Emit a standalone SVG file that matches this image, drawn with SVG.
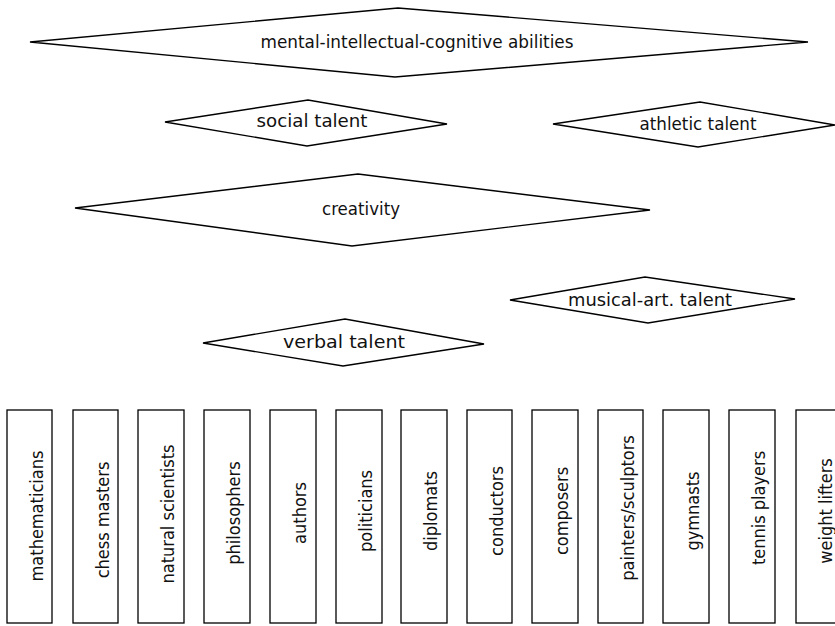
<svg xmlns="http://www.w3.org/2000/svg" width="835" height="626" viewBox="0 0 835 626">
<style>
.d{fill:#fff;stroke:#000;stroke-width:1.4;stroke-linejoin:miter}
.b{fill:#fff;stroke:#000;stroke-width:1.3}
.t{font-family:"DejaVu Sans","Liberation Sans",sans-serif;font-size:17.5px;fill:#111;text-anchor:middle}
.v{font-family:"DejaVu Sans","Liberation Sans",sans-serif;font-size:18px;fill:#111;text-anchor:middle}
</style>
<rect width="835" height="626" fill="#fff"/>
<g id="connectors"></g>
<g id="n-mental"><polygon class="d" points="30,42 398,8 808,42 395,77"/><text class="t" x="417" y="48" textLength="313" lengthAdjust="spacingAndGlyphs">mental-intellectual-cognitive abilities</text></g>
<g id="n-social"><polygon class="d" points="165,122 308,100 447,124 307,146"/><text class="t" x="312" y="127" textLength="111" lengthAdjust="spacingAndGlyphs">social talent</text></g>
<g id="n-athletic"><polygon class="d" points="553,124 700,102 835,125 698,147"/><text class="t" x="698" y="130" textLength="117" lengthAdjust="spacingAndGlyphs">athletic talent</text></g>
<g id="n-creativity"><polygon class="d" points="75,208 358,174 650,210 352,246"/><text class="t" x="361" y="215" textLength="78" lengthAdjust="spacingAndGlyphs">creativity</text></g>
<g id="n-musical"><polygon class="d" points="510,300 645,277 795,299 648,323"/><text class="t" x="650" y="306" textLength="164" lengthAdjust="spacingAndGlyphs">musical-art. talent</text></g>
<g id="n-verbal"><polygon class="d" points="203,343 345,319 484,344 343,366"/><text class="t" x="344" y="348" textLength="122" lengthAdjust="spacingAndGlyphs">verbal talent</text></g>
<g id="n-mathematicians"><rect class="b" x="7" y="410" width="45" height="213"/><text class="v" transform="translate(43,516) rotate(-90) scale(0.9,1)">mathematicians</text></g>
<g id="n-chess"><rect class="b" x="73" y="410" width="45" height="213"/><text class="v" transform="translate(109,520) rotate(-90) scale(0.9,1)">chess masters</text></g>
<g id="n-natural"><rect class="b" x="138" y="410" width="46" height="213"/><text class="v" transform="translate(174,514) rotate(-90) scale(0.9,1)">natural scientists</text></g>
<g id="n-philosophers"><rect class="b" x="204" y="410" width="46" height="213"/><text class="v" transform="translate(240,513) rotate(-90) scale(0.9,1)">philosophers</text></g>
<g id="n-authors"><rect class="b" x="270" y="410" width="46" height="213"/><text class="v" transform="translate(306,513) rotate(-90) scale(0.9,1)">authors</text></g>
<g id="n-politicians"><rect class="b" x="336" y="410" width="46" height="213"/><text class="v" transform="translate(372,511) rotate(-90) scale(0.9,1)">politicians</text></g>
<g id="n-diplomats"><rect class="b" x="401" y="410" width="46" height="213"/><text class="v" transform="translate(437,511) rotate(-90) scale(0.9,1)">diplomats</text></g>
<g id="n-conductors"><rect class="b" x="467" y="410" width="45" height="213"/><text class="v" transform="translate(503,511) rotate(-90) scale(0.9,1)">conductors</text></g>
<g id="n-composers"><rect class="b" x="532" y="410" width="46" height="213"/><text class="v" transform="translate(568,511) rotate(-90) scale(0.9,1)">composers</text></g>
<g id="n-painters"><rect class="b" x="598" y="410" width="45" height="213"/><text class="v" transform="translate(634,508) rotate(-90) scale(0.9,1)">painters/sculptors</text></g>
<g id="n-gymnasts"><rect class="b" x="663" y="410" width="46" height="213"/><text class="v" transform="translate(699,511) rotate(-90) scale(0.9,1)">gymnasts</text></g>
<g id="n-tennis"><rect class="b" x="729" y="410" width="46" height="213"/><text class="v" transform="translate(765,508) rotate(-90) scale(0.9,1)">tennis players</text></g>
<g id="n-weight"><rect class="b" x="796" y="410" width="46" height="213"/><text class="v" transform="translate(832,511) rotate(-90) scale(0.9,1)">weight lifters</text></g>
</svg>
